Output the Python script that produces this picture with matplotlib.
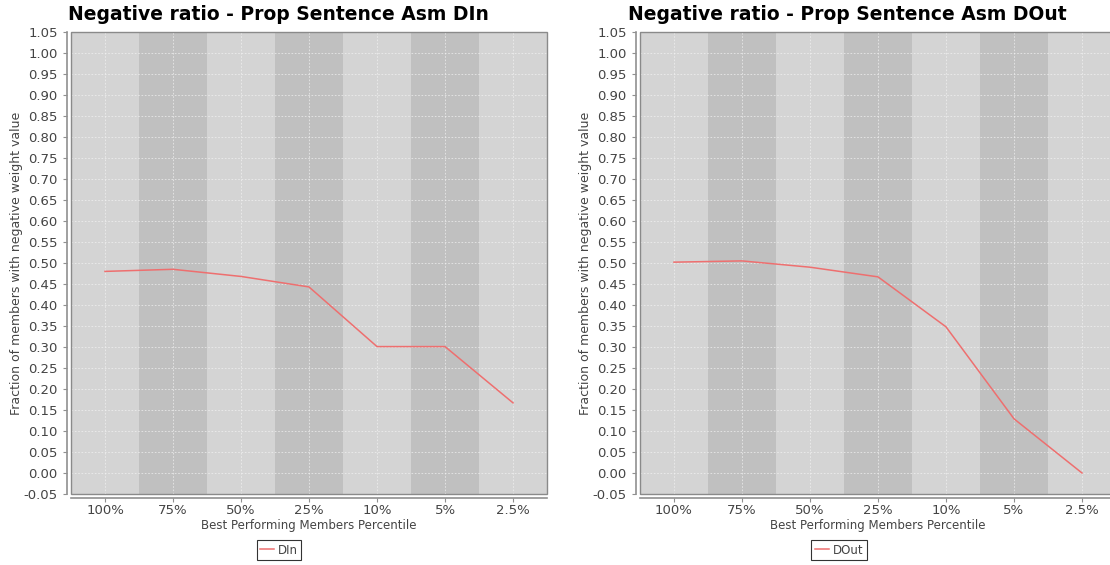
import numpy as np
import matplotlib
matplotlib.use("Agg")
import matplotlib.pyplot as plt
from matplotlib.patches import Rectangle

# data
categories = ['100%', '75%', '50%', '25%', '10%', '5%', '2.5%']
din_values = [0.480, 0.485, 0.468, 0.443, 0.301, 0.301, 0.167]
dout_values = [0.502, 0.505, 0.490, 0.467, 0.348, 0.129, 0.000]
titles = ['Negative ratio - Prop Sentence Asm DIn', 'Negative ratio - Prop Sentence Asm DOut']
series_names = ['DIn', 'DOut']
y_ticks = np.round(np.arange(-0.05, 1.0501, 0.05), 2)

W, H = 1110, 565
fig = plt.figure(figsize=(W / 100, H / 100), dpi=100)
fig.patch.set_facecolor('white')

light = '#d4d4d4'
dark = '#c0c0c0'
line_col = '#ee6f6f'
txt_col = '#444444'

panels = [
    dict(x0=71, title_x=278, leg_x=279, ylab_x=17),
    dict(x0=640, title_x=847, leg_x=839, ylab_x=586),
]
top, bottom = 32, 494

for p, vals, title, name in zip(panels, [din_values, dout_values], titles, series_names):
    ax = fig.add_axes([p['x0'] / W, (H - bottom) / H, 476 / W, (bottom - top) / H])
    x = np.arange(len(categories))
    # alternating category bands
    for i in x:
        ax.axvspan(i - 0.5, i + 0.5, color=light if i % 2 == 0 else dark, lw=0, zorder=0)
    ax.set_xlim(-0.5, len(categories) - 0.5)
    ax.set_ylim(-0.05, 1.05)
    ax.set_xticks(x)
    ax.set_xticklabels(categories)
    ax.set_yticks(y_ticks)
    ax.set_yticklabels(['%.2f' % v for v in y_ticks])
    ax.grid(True, color='#f2f2f2', ls=(0, (2, 2)), lw=0.6, alpha=0.8, zorder=1)
    ax.set_axisbelow(False)
    ax.plot(x, vals, color=line_col, lw=1.1, zorder=3, label=name)

    for s in ['top', 'right']:
        ax.spines[s].set_visible(False)
    for s in ['left', 'bottom']:
        ax.spines[s].set_position(('outward', 3))
        ax.spines[s].set_color('#909090')
        ax.spines[s].set_linewidth(1.2)
    ax.add_patch(Rectangle((0, 0), 1, 1, transform=ax.transAxes, fill=False,
                           ec='#8a8a8a', lw=1.0, zorder=5, clip_on=False))
    ax.tick_params(colors='#909090', labelcolor=txt_col, labelsize=9.5, length=3, width=0.8)
    ax.tick_params(axis='x', pad=1.5)

    fig.text(p['title_x'] / W, 1 - 14 / H, title, ha='center', va='center',
             fontsize=13.5, fontweight='bold', color='black')
    fig.text((p['x0'] + 238) / W, 1 - 526 / H, 'Best Performing Members Percentile',
             ha='center', va='center', fontsize=8.5, color=txt_col)
    fig.text(p['ylab_x'] / W, 1 - 263 / H, 'Fraction of members with negative weight value',
             ha='center', va='center', rotation=90, fontsize=9, color=txt_col)
    leg = fig.legend(handles=ax.get_lines(), loc='center',
                     bbox_to_anchor=(p['leg_x'] / W, 1 - 550 / H), fontsize=8.5,
                     frameon=True, fancybox=False, handlelength=1.2, handletextpad=0.3,
                     borderpad=0.3, borderaxespad=0)
    leg.get_frame().set_edgecolor('black')
    leg.get_frame().set_linewidth(0.8)
    for t in leg.get_texts():
        t.set_color(txt_col)

fig.savefig('out.png', dpi=100)
